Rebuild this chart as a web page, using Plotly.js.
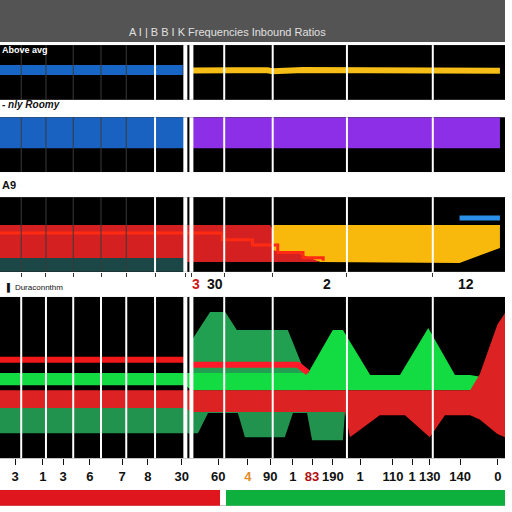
<!DOCTYPE html>
<html>
<head>
<meta charset="utf-8">
<script src="https://cdn.plot.ly/plotly-3.0.1.min.js"></script>
<style>html,body{margin:0;padding:0;background:#fff;}#chart{width:512px;height:512px;}</style>
</head>
<body>
<div id="chart"></div>
<script>
// ---------- data ----------
const chartTitle = "A I | B B I K Frequencies Inbound Ratios";
const panelLabels = ["Above avg", "- nly Roomy", "A9", "▌ Duraconnthm"];

// vertical grid positions (x units)
const gridX = [4.2, 9.1, 14.5, 20, 25, 30.7, 36.7, 37.9, 44.4, 54, 68.7, 85.7];

// bottom tick labels
const tickPos = [3.0, 8.5, 12.5, 17.8, 24.2, 29.3, 36.0, 43.2, 49.1, 53.5, 58.0, 61.8, 65.9, 71.3, 77.8, 81.6, 85.1, 91.1, 98.6];
const tickText = ["3","1","3","6","7","8","30","60","<span style='color:#e08a2a'>4</span>","90","1","<span style='color:#b01010'>83</span>","190","1","110","1","130","140","0"];

// panel 1 : lines
const p1BlueX = [0, 36.2];
const p1BlueY = [5.45, 5.45];
const p1YellowX = [38, 42, 44, 46, 53, 54, 60, 80, 95, 99];
const p1YellowY = [5.35, 5.45, 5.6, 5.4, 5.4, 5.2, 5.45, 5.45, 5.35, 5.3];

// panel 2 : bands
const p2BlueX = [0, 36.6];
const p2BlueLo = [4.36, 4.36];
const p2BlueHi = [10, 10];
const p2PurpleX = [38, 99];
const p2PurpleLo = [4.36, 4.36];
const p2PurpleHi = [10, 10];

// panel 3
const p3TealX = [0, 36.6];
const p3TealLo = [0, 0];
const p3TealHi = [1.87, 1.87];
const p3RedX = [0, 36.6, 36.7, 53.5, 56, 60, 63];
const p3RedLo = [1.87, 1.87, 1.33, 1.33, 1.33, 1.33, 1.33];
const p3RedHi = [6.27, 6.27, 6.27, 6.27, 3.2, 2.4, 1.6];
const p3YellowX = [53.9, 59.4, 63.4, 91, 99];
const p3YellowLo = [2.9, 2.4, 1.33, 1.2, 3.2];
const p3YellowHi = [6.27, 6.27, 6.27, 6.27, 6.27];
const p3StepX = [0, 36, 44, 50, 55, 60, 64];
const p3StepY = [5.2, 5.2, 4.3, 3.6, 2.6, 1.9, 1.5];
const p3BlueLineX = [91, 99];
const p3BlueLineY = [7.2, 7.2];

// panel 4
const p4DarkUpX = [38, 41.6, 44.6, 46.9, 57, 61];
const p4DarkUpLo = [4.22, 4.22, 4.22, 4.22, 4.22, 4.22];
const p4DarkUpHi = [7.33, 9.07, 9.07, 7.95, 7.95, 4.84];
const p4DarkLowX = [0, 36.6, 38, 39.2, 41.2, 47.1, 48.5, 56.4, 58, 60.8, 61.8, 67.9, 68.3];
const p4DarkLowLo = [1.55, 1.55, 1.55, 1.55, 2.8, 2.8, 1.3, 1.3, 2.8, 2.8, 1.12, 1.12, 2.8];
const p4DarkLowHi = [3.11, 3.11, 3.0, 3.0, 3.0, 3.0, 3.0, 3.0, 3.0, 3.0, 3.0, 3.0, 3.0];
const p4GreenX = [0, 36.6, 38, 61, 65.9, 67.9, 73.3, 79.2, 84.8, 90.1, 93.1, 96];
const p4GreenLo = [4.53, 4.53, 4.22, 4.22, 4.22, 4.22, 4.22, 4.22, 4.22, 4.22, 4.22, 4.22];
const p4GreenHi = [5.28, 5.28, 5.28, 5.28, 7.95, 7.95, 5.16, 5.16, 8.07, 5.16, 5.16, 5.0];
const p4RedX = [0, 36.6, 38, 68.3, 69.3, 75.2, 80.2, 85.1, 88.1, 93.1, 95, 97, 98.5, 100];
const p4RedLo = [3.11, 3.11, 2.86, 2.86, 1.3, 2.67, 2.67, 1.3, 2.67, 2.67, 2.4, 1.9, 1.5, 1.3];
const p4RedHi = [4.22, 4.22, 4.22, 4.22, 4.22, 4.22, 4.22, 4.22, 4.22, 4.22, 5.2, 7.0, 8.3, 9.0];
const p4LineLX = [0, 36.6];
const p4LineLY = [6.1, 6.1];
const p4LineRX = [38, 59, 61];
const p4LineRY = [5.8, 5.8, 5.3];

// bottom strip
const stripBase = [0, 44.8];
const stripLen = [43.6, 55.2];
const stripColors = ["#e0161e", "#0db03c"];

// ---------- build ----------
function band(xs, lo, hi, color, k) {
  const ax = k > 1 ? String(k) : "";
  return {
    type: "scatter", mode: "lines", fill: "toself", fillcolor: color,
    x: xs.concat(xs.slice().reverse()),
    y: hi.concat(lo.slice().reverse()),
    line: {width: 0, color: color}, hoverinfo: "skip", showlegend: false,
    xaxis: "x" + ax, yaxis: "y" + ax
  };
}
function line(xs, ys, color, w, k, shape) {
  const ax = k > 1 ? String(k) : "";
  return {
    type: "scatter", mode: "lines", x: xs, y: ys,
    line: {color: color, width: w, shape: shape || "linear"},
    showlegend: false, xaxis: "x" + ax, yaxis: "y" + ax
  };
}

const traces = [
  line(p1BlueX, p1BlueY, "#1766c6", 10, 1),
  line(p1YellowX, p1YellowY, "#f6be16", 6, 1),
  band(p2BlueX, p2BlueLo, p2BlueHi, "#1a62c2", 2),
  band(p2PurpleX, p2PurpleLo, p2PurpleHi, "#8c2fe6", 2),
  band(p3TealX, p3TealLo, p3TealHi, "#1b4746", 3),
  band(p3RedX, p3RedLo, p3RedHi, "#d42020", 3),
  band(p3YellowX, p3YellowLo, p3YellowHi, "#f8b90c", 3),
  line(p3StepX, p3StepY, "#ff2a12", 3, 3, "hv"),
  line(p3BlueLineX, p3BlueLineY, "#2a8fe8", 5, 3),
  band(p4DarkUpX, p4DarkUpLo, p4DarkUpHi, "#20a050", 4),
  band(p4DarkLowX, p4DarkLowLo, p4DarkLowHi, "#22924f", 4),
  band(p4GreenX, p4GreenLo, p4GreenHi, "#12dc42", 4),
  band(p4RedX, p4RedLo, p4RedHi, "#dc2222", 4),
  line(p4LineLX, p4LineLY, "#f01818", 6, 4),
  line(p4LineRX, p4LineRY, "#ff1a2a", 6, 4),
  {
    type: "bar", orientation: "h", base: stripBase, x: stripLen, y: [0, 0],
    marker: {color: stripColors, line: {width: 0}}, width: 1,
    showlegend: false, xaxis: "x5", yaxis: "y5"
  }
];

const domains = [[0.805, 0.912], [0.664, 0.771], [0.469, 0.615], [0.105, 0.42], [0.012, 0.043]];

const layout = {
  width: 512, height: 512,
  margin: {l: 0, r: 7, t: 0, b: 0},
  paper_bgcolor: "#ffffff",
  plot_bgcolor: "#000000",
  font: {family: "Liberation Sans, Arial, sans-serif", color: "#000"},
  showlegend: false,
  bargap: 0,
  shapes: [], annotations: []
};

for (let k = 1; k <= 5; k++) {
  const ax = k > 1 ? String(k) : "";
  layout["xaxis" + ax] = {
    domain: [0, 1], range: [0, 100], anchor: "y" + ax,
    showgrid: false, zeroline: false, showline: false,
    showticklabels: false, ticks: "", fixedrange: true
  };
  layout["yaxis" + ax] = {
    domain: domains[k - 1], range: k === 5 ? [-0.5, 0.5] : [0, 10], anchor: "x" + ax,
    showgrid: false, zeroline: false, showline: false,
    showticklabels: false, ticks: "", fixedrange: true
  };
}
Object.assign(layout.xaxis4, {
  showticklabels: true, tickmode: "array", tickvals: tickPos, ticktext: tickText,
  tickangle: 0, ticks: "outside", ticklen: 6, tickcolor: "#111",
  tickfont: {size: 13, color: "#111", family: "Liberation Sans, Arial, sans-serif", weight: "bold"}
});
Object.assign(layout.xaxis3, {
  tickmode: "array", tickvals: gridX, ticks: "outside", ticklen: 4, tickcolor: "#333"
});

// white background for the bottom strip subplot
layout.shapes.push({
  type: "rect", layer: "below", xref: "x5 domain", yref: "y5 domain",
  x0: 0, x1: 1, y0: 0, y1: 1, fillcolor: "#ffffff", line: {width: 0}
});

// grid lines above traces
for (let k = 1; k <= 4; k++) {
  const ax = k > 1 ? String(k) : "";
  gridX.forEach((g, i) => {
    const faint = (k <= 3 && i < 5);
    layout.shapes.push({
      type: "line", layer: "above", xref: "x" + ax, yref: "y" + ax + " domain",
      x0: g, x1: g, y0: 0, y1: 1,
      line: {color: faint ? "#3a3a3a" : "#ffffff", width: (i === 6 || i === 7) ? 4 : (faint ? 1 : 2)}
    });
  });
}
// title band
layout.shapes.push({
  type: "rect", layer: "below", xref: "paper", yref: "paper",
  x0: 0, x1: 1, y0: 0.918, y1: 1, fillcolor: "#545454", line: {width: 0}
});

layout.annotations.push({
  text: chartTitle, xref: "paper", yref: "paper", x: 0.45, y: 0.937,
  xanchor: "center", yanchor: "middle", showarrow: false,
  font: {size: 11, color: "#e0e0e0"}
});
layout.annotations.push({
  text: "<b>" + panelLabels[0] + "</b>", xref: "paper", yref: "paper", x: 0, y: 0.902,
  xanchor: "left", yanchor: "middle", showarrow: false, font: {size: 9, color: "#ffffff"}
});
layout.annotations.push({
  text: "<i><b>" + panelLabels[1] + "</b></i>", xref: "paper", yref: "paper", x: 0, y: 0.795,
  xanchor: "left", yanchor: "middle", showarrow: false, font: {size: 10, color: "#111"}
});
layout.annotations.push({
  text: "<b>" + panelLabels[2] + "</b>", xref: "paper", yref: "paper", x: 0, y: 0.638,
  xanchor: "left", yanchor: "middle", showarrow: false, font: {size: 11, color: "#111"}
});
layout.annotations.push({
  text: panelLabels[3], xref: "paper", yref: "paper", x: 0.01, y: 0.438,
  xanchor: "left", yanchor: "middle", showarrow: false, font: {size: 8, color: "#111"}
});
const midLabels = [["3", 38.8, "#d01818"], ["30", 42.6, "#111"], ["2", 64.8, "#111"], ["12", 92.2, "#111"]];
midLabels.forEach(m => layout.annotations.push({
  text: "<b>" + m[0] + "</b>", xref: "x4", yref: "paper", x: m[1], y: 0.446,
  xanchor: "center", yanchor: "middle", showarrow: false, font: {size: 14, color: m[2]}
}));

Plotly.newPlot("chart", traces, layout, {staticPlot: true, displayModeBar: false});
</script>
</body>
</html>
